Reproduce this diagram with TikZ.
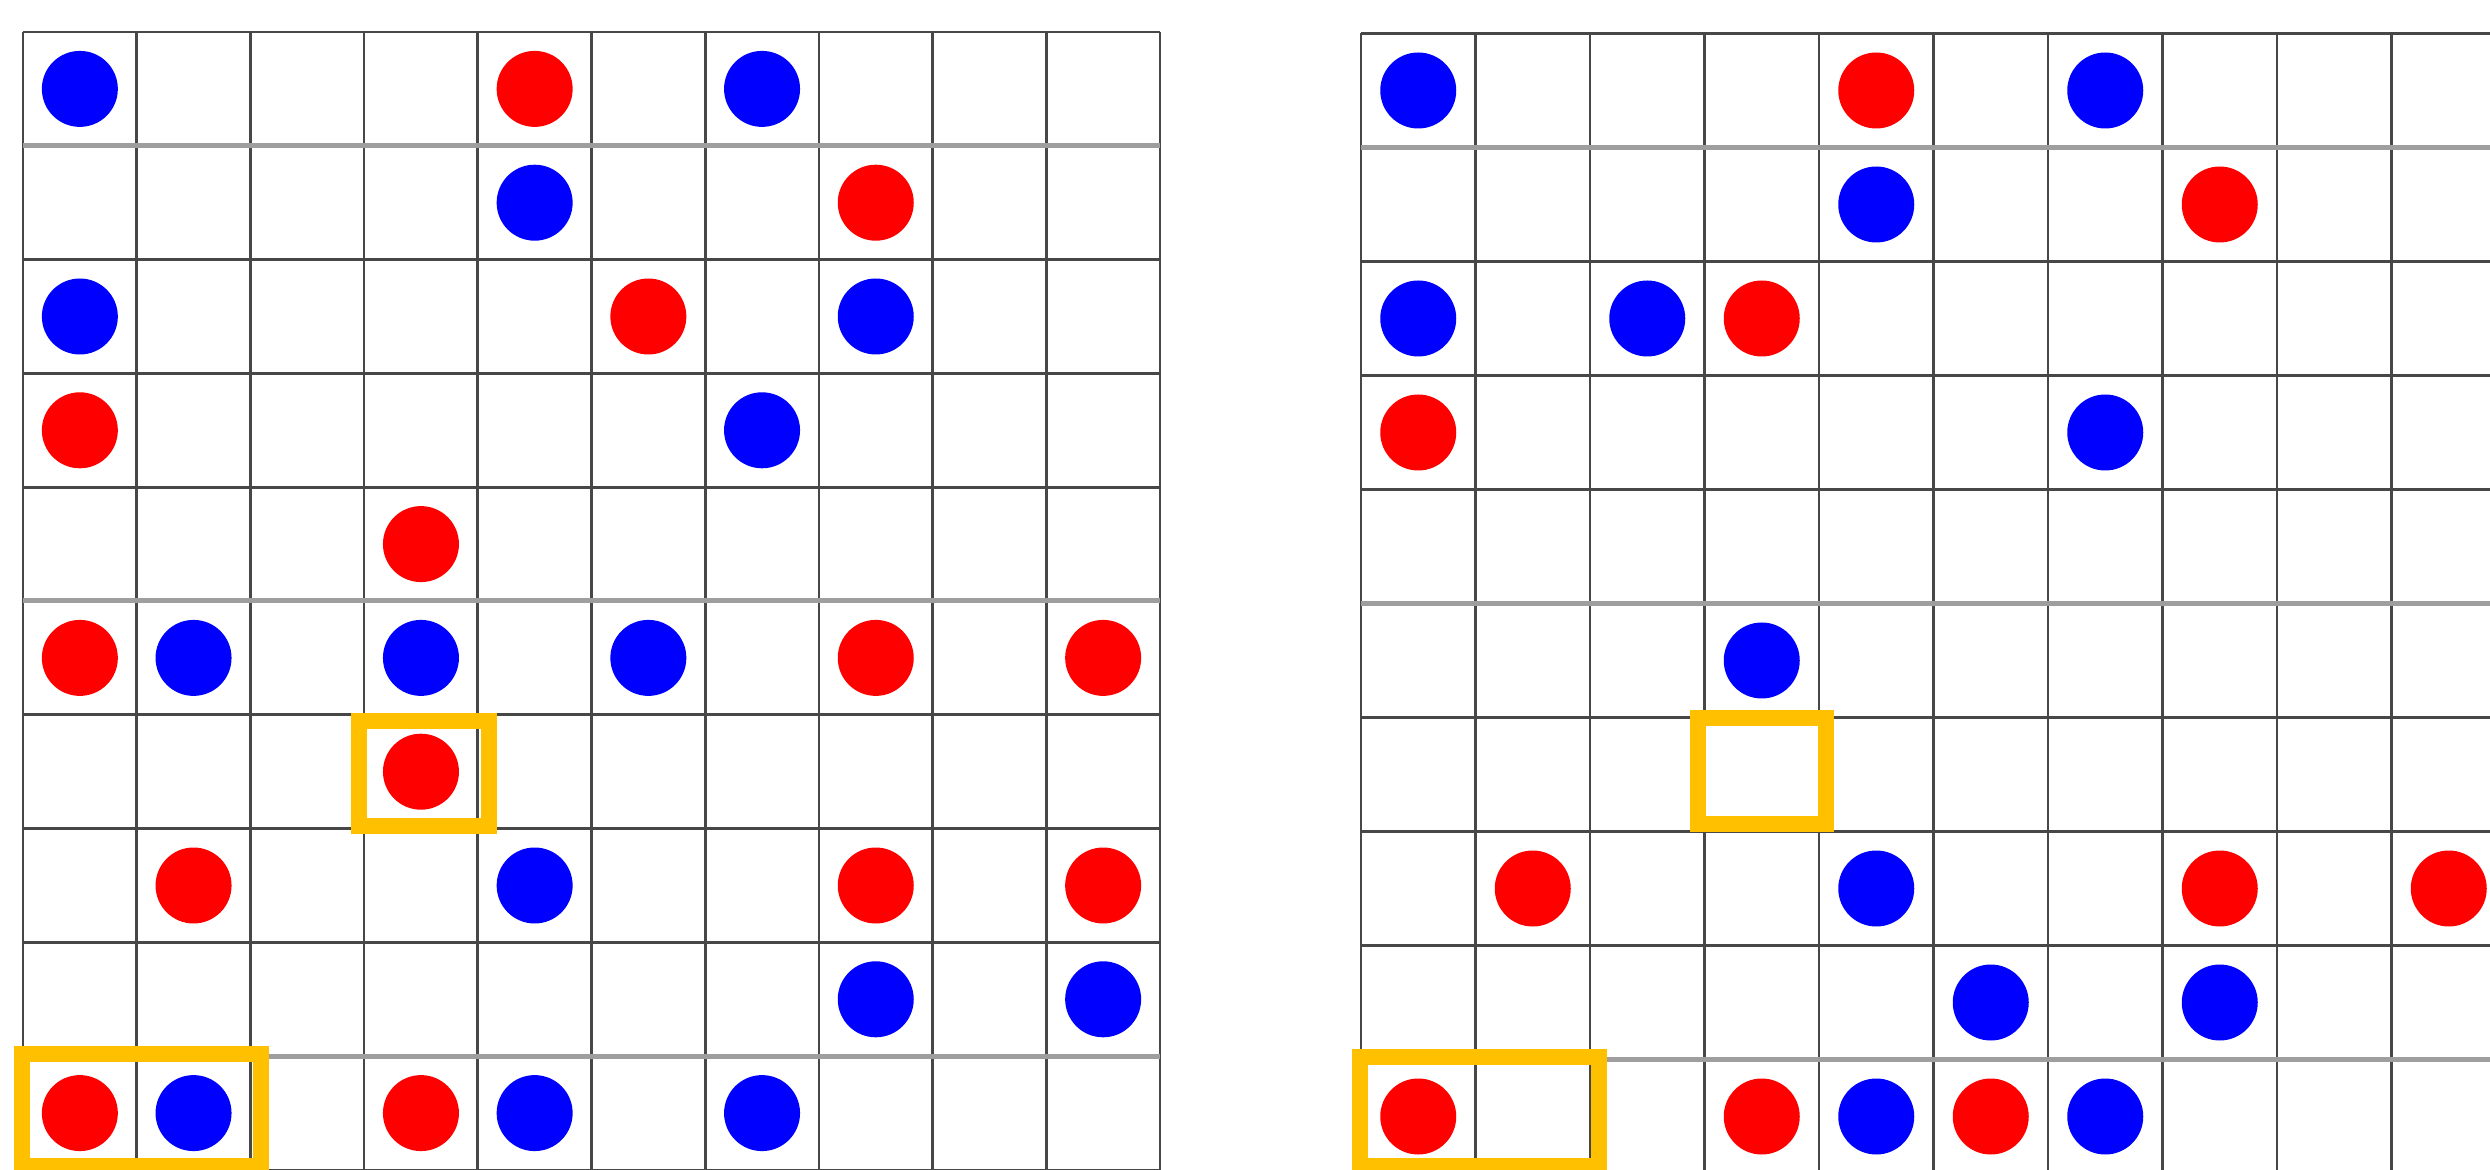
\documentclass[tikz,border=0pt]{standalone}
\definecolor{dotred}{RGB}{255,0,0}
\definecolor{dotblue}{RGB}{0,0,255}
\definecolor{hilite}{RGB}{255,192,0}
\begin{document}
\begin{tikzpicture}[x=0.3pt,y=-0.3pt,
  gridline/.style={draw=black!72,line width=0.8pt},
  softline/.style={draw=black!38,line width=1.5pt},
  dot/.style={circle,inner sep=0pt,minimum size=22.8pt},
  rdot/.style={dot,fill=dotred},
  bdot/.style={dot,fill=dotblue},
  hbox/.style={draw=hilite,line width=4.8pt}]
\useasboundingbox (0,0) rectangle (2490,1170);
\clip (0,0) rectangle (2490,1170);
% ---------- left grid ----------
\def\Lx{23}\def\Lw{113.7}\def\Ly{32}\def\Lh{113.8}
\foreach \k in {0,...,10}
  \draw[gridline] ({\Lx+\k*\Lw},\Ly) -- ({\Lx+\k*\Lw},{\Ly+10*\Lh});
\foreach \k in {0,2,3,4,6,7,8,10}
  \draw[gridline] (\Lx,{\Ly+\k*\Lh}) -- ({\Lx+10*\Lw},{\Ly+\k*\Lh});
\foreach \k in {1,5,9}
  \draw[softline] (\Lx,{\Ly+\k*\Lh}) -- ({\Lx+10*\Lw},{\Ly+\k*\Lh});
\foreach \r/\c/\s in {1/1/bdot,1/5/rdot,1/7/bdot,
  2/5/bdot,2/8/rdot,
  3/1/bdot,3/6/rdot,3/8/bdot,
  4/1/rdot,4/7/bdot,
  5/4/rdot,
  6/1/rdot,6/2/bdot,6/4/bdot,6/6/bdot,6/8/rdot,6/10/rdot,
  7/4/rdot,
  8/2/rdot,8/5/bdot,8/8/rdot,8/10/rdot,
  9/8/bdot,9/10/bdot,
  10/1/rdot,10/2/bdot,10/4/rdot,10/5/bdot,10/7/bdot}
  \node[\s] (L\r-\c) at ({\Lx+(\c-0.5)*\Lw},{\Ly+(\r-0.5)*\Lh}) {};
% ---------- right grid ----------
\def\Rx{1361}\def\Rw{114.5}\def\Ry{33.5}\def\Rh{114}
\foreach \k in {0,...,10}
  \draw[gridline] ({\Rx+\k*\Rw},\Ry) -- ({\Rx+\k*\Rw},{\Ry+10*\Rh});
\foreach \k in {0,2,3,4,6,7,8,10}
  \draw[gridline] (\Rx,{\Ry+\k*\Rh}) -- ({\Rx+10*\Rw},{\Ry+\k*\Rh});
\foreach \k in {1,5,9}
  \draw[softline] (\Rx,{\Ry+\k*\Rh}) -- ({\Rx+10*\Rw},{\Ry+\k*\Rh});
\foreach \r/\c/\s in {1/1/bdot,1/5/rdot,1/7/bdot,
  2/5/bdot,2/8/rdot,
  3/1/bdot,3/3/bdot,3/4/rdot,
  4/1/rdot,4/7/bdot,
  6/4/bdot,
  8/2/rdot,8/5/bdot,8/8/rdot,8/10/rdot,
  9/6/bdot,9/8/bdot,
  10/1/rdot,10/4/rdot,10/5/bdot,10/6/rdot,10/7/bdot}
  \node[\s] (R\r-\c) at ({\Rx+(\c-0.5)*\Rw},{\Ry+(\r-0.5)*\Rh}) {};
% ---------- highlight boxes ----------
\draw[hbox] (22,1054) rectangle (261,1166);
\draw[hbox] (359,721) rectangle (489,826);
\draw[hbox] (1697.5,718.5) rectangle (1825.5,823.5);
\draw[hbox] (1360,1057) rectangle (1599,1166);
\end{tikzpicture}
\end{document}
